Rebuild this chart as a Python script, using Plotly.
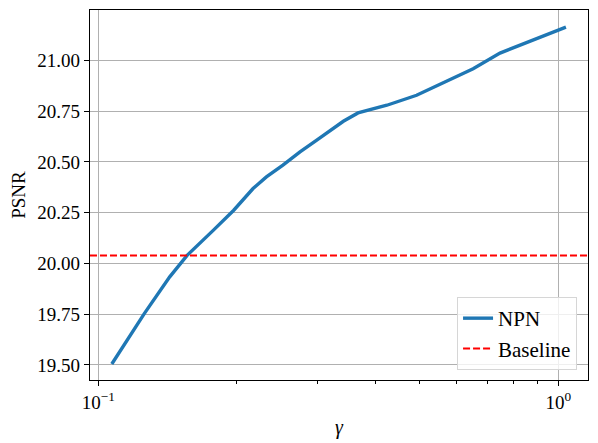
import plotly.graph_objects as go

gamma = [0.107, 0.126, 0.143, 0.156, 0.178, 0.197, 0.217, 0.232, 0.252,
         0.2745, 0.2985, 0.341, 0.367, 0.424, 0.492, 0.653, 0.747, 1.039]
psnr = [19.505, 19.754, 19.934, 20.04, 20.164, 20.262, 20.369, 20.426, 20.484,
        20.549, 20.607, 20.70, 20.741, 20.779, 20.828, 20.959, 21.036, 21.164]
baseline = 20.039

y_ticks = [19.5, 19.75, 20.0, 20.25, 20.5, 20.75, 21.0]
y_labels = ["19.50", "19.75", "20.00", "20.25", "20.50", "20.75", "21.00"]
x_ticks = [0.1, 1]
x_labels = ["10<sup>\u22121</sup>", "10<sup>0</sup>"]
x_minor = [0.2, 0.3, 0.4, 0.5, 0.6, 0.7, 0.8, 0.9]

serif = "Liberation Serif"
tick_font = dict(family=serif, size=19, color="black")
base_line = dict(color="red", width=2, dash="7px,3px")

fig = go.Figure()
fig.add_trace(go.Scatter(x=gamma, y=psnr, mode="lines", name="NPN",
                         line=dict(color="#1f77b4", width=3.4)))
fig.add_trace(go.Scatter(x=[None], y=[None], mode="lines", name="Baseline",
                         line=base_line))
fig.add_hline(y=baseline, line=base_line)

# page body has an 8px margin, so the figure is sized and shifted to fit
fig.update_layout(
    width=590, height=435,
    margin=dict(l=82, r=10, t=2, b=63, autoexpand=False),
    paper_bgcolor="white", plot_bgcolor="white",
    font=dict(family=serif, size=19, color="black"),
    showlegend=True,
    legend=dict(x=0.978, y=0.027, xanchor="right", yanchor="bottom",
                bgcolor="rgba(255,255,255,0.8)", bordercolor="#d6d6d6",
                borderwidth=1, font=dict(family=serif, size=21),
                tracegroupgap=4),
)
fig.update_xaxes(
    type="log", range=[-1.018, 0.0646], automargin=False,
    tickvals=x_ticks, ticktext=x_labels, tickfont=tick_font,
    ticks="outside", ticklen=5, tickcolor="black",
    showgrid=True, gridcolor="#b0b0b0", gridwidth=1,
    showline=True, linecolor="black", linewidth=1.2, mirror=True,
    zeroline=False,
    minor=dict(tickvals=x_minor, ticks="outside", ticklen=3, tickcolor="black", showgrid=False),
    title=dict(text="<i>\u03b3</i>", standoff=8, font=dict(family=serif, size=20)),
)
fig.update_yaxes(
    range=[19.426, 21.248], automargin=False,
    tickvals=y_ticks, ticktext=y_labels, tickfont=tick_font,
    ticks="outside", ticklen=5, tickcolor="black",
    showgrid=True, gridcolor="#b0b0b0", gridwidth=1,
    showline=True, linecolor="black", linewidth=1.2, mirror=True,
    zeroline=False,
    title=dict(text="PSNR", standoff=6, font=dict(family=serif, size=19)),
)

fig.write_html("out.html")
